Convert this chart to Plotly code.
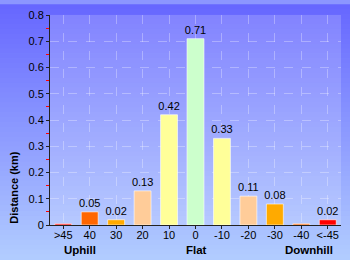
import plotly.graph_objects as go

categories = [">45", "40", "30", "20", "10", "0", "-10", "-20", "-30", "-40", "<-45"]
distances = [0.005, 0.05, 0.02, 0.13, 0.42, 0.71, 0.33, 0.11, 0.08, 0.005, 0.02]
bar_labels = ["", "0.05", "0.02", "0.13", "0.42", "0.71", "0.33", "0.11", "0.08", "", "0.02"]
bar_colors = ["#FF0000", "#FF6600", "#FFAA00", "#FFCC99", "#FFFF99", "#CCFFCC",
              "#FFFF99", "#FFCC99", "#FFAA00", "#FF6600", "#FF0000"]
group_labels = ["Uphill", "Flat", "Downhill"]
group_centers = [80, 196, 309]  # pixel x centres

W, H = 350, 260
L, R, T, B = 50, 9, 11, 35
pw, ph = W - L - R, H - T - B

def px_x(p):
    return (p - L) / pw

def px_y(p):
    return (H - B - p) / ph

fig = go.Figure()
fig.add_trace(go.Bar(
    x=categories, y=distances, text=bar_labels, textposition="outside",
    constraintext="none",
    textfont=dict(size=11, color="black", family="Liberation Sans, Arial"),
    marker=dict(color=bar_colors, line=dict(color="rgba(255,255,255,0.6)", width=1)),
    width=0.64, cliponaxis=False,
))

shapes = []
n = 52
top_c = (102, 102, 255)
bot_c = (178, 205, 255)
for i in range(n):
    f = (i + 0.5) / n
    c = tuple(round(top_c[k] + (bot_c[k] - top_c[k]) * f) for k in range(3))
    y0p = i * H / n
    y1p = (i + 1) * H / n + 0.6
    shapes.append(dict(type="rect", xref="paper", yref="paper", layer="below",
                       x0=px_x(-2), x1=px_x(W + 2), y0=px_y(y1p), y1=px_y(y0p),
                       fillcolor="rgb(%d,%d,%d)" % c, line=dict(width=0)))
shapes.append(dict(type="rect", xref="paper", yref="paper", layer="below",
                   x0=0, x1=1, y0=0, y1=1,
                   fillcolor="rgba(255,255,255,0.17)", line=dict(width=0)))

annotations = []
for g, cx in zip(group_labels, group_centers):
    annotations.append(dict(text="<b>%s</b>" % g, xref="paper", yref="paper",
                            x=px_x(cx), y=px_y(250.5), showarrow=False,
                            xanchor="center", yanchor="middle",
                            font=dict(size=11.5, color="black", family="Liberation Sans, Arial")))
annotations.append(dict(text="<b>Distance (km)</b>", xref="paper", yref="paper",
                        x=px_x(14), y=px_y(187), showarrow=False, textangle=-90,
                        xanchor="center", yanchor="middle",
                        font=dict(size=11, color="black", family="Liberation Sans, Arial")))

fig.update_layout(
    width=W, height=H, margin=dict(l=L, r=R, t=T, b=B),
    paper_bgcolor="rgb(140,150,255)", plot_bgcolor="rgba(0,0,0,0)",
    shapes=shapes, annotations=annotations, showlegend=False,
    font=dict(family="Liberation Sans, Arial", size=11, color="black"),
    bargap=0.36,
)
fig.update_xaxes(
    type="category", range=[-0.5, 10.5], showline=True, linecolor="#222", linewidth=1,
    ticks="outside", ticklen=3, tickcolor="#222", ticklabelstandoff=-3,
    showgrid=True, gridcolor="rgba(255,255,255,0.3)", griddash="dash", gridwidth=1,
    tickfont=dict(size=11, color="black"), zeroline=False,
)
fig.update_yaxes(
    range=[0, 0.8], dtick=0.1, tickformat="~g", showline=True, linecolor="#222", linewidth=1,
    ticks="outside", ticklen=3, tickcolor="#222",
    showgrid=True, gridcolor="rgba(255,255,255,0.3)", griddash="dash", gridwidth=1,
    minor=dict(dtick=0.05, ticks="outside", ticklen=3, tickcolor="red", showgrid=False),
    tickfont=dict(size=11, color="black"), zeroline=False,
)

fig.write_html("out.html")
